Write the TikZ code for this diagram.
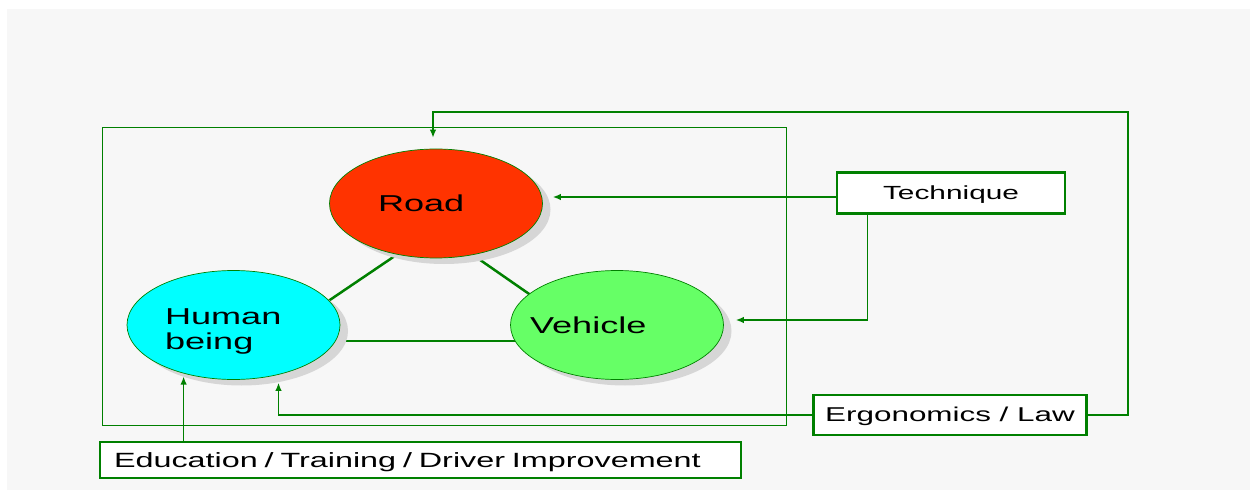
\documentclass[tikz,border=0pt]{standalone}
\usepackage{fontspec}
\setmainfont{Liberation Sans}[FakeStretch=1.57]
\usetikzlibrary{arrows.meta,shapes.geometric,calc}
\definecolor{gline}{RGB}{0,128,0}
\definecolor{roadc}{RGB}{255,51,0}
\definecolor{humc}{RGB}{0,255,255}
\definecolor{vehc}{RGB}{102,255,102}
\definecolor{shadowc}{RGB}{214,214,214}
\definecolor{bgc}{RGB}{247,247,247}
\begin{document}
\begin{tikzpicture}[x=1pt,y=-1pt,
  blob/.style={ellipse, draw=gline, line width=0.7pt, minimum width=213pt, minimum height=109pt,
    inner sep=0pt, font=\fontsize{23}{24.5}\selectfont, align=left},
  boxnode/.style={draw=gline, line width=2.8pt, fill=white, inner sep=0pt},
  conn/.style={draw=gline, line width=1.3pt, -{Latex[length=8pt,width=6.5pt]}},
  link/.style={draw=gline, line width=2.5pt},
  shadowfill/.style={fill=shadowc}
]
\useasboundingbox (0,0) rectangle (1250,497);
\fill[bgc] (7,9) rectangle (1250,490);
\node[draw=gline, line width=1pt, minimum width=684.5pt, minimum height=298pt, inner sep=0pt,
  anchor=north west] (frame) at (101.5,127) {};
\coordinate (rc) at (436,203.5);
\coordinate (hc) at (233.5,325);
\coordinate (vc) at (617,325);
% triangle links
\draw[link] ($(rc)+(-22,39.5)$) -- ($(hc)+(84.5,-17)$);
\draw[link] ($(rc)+(22.6,41.5)$) -- ($(vc)+(-72,-20)$);
\draw[link] ($(hc)+(60,16)$) -- ($(vc)+(-60,16)$);
% shadows
\fill[shadowfill] ($(rc)+(8,6)$) ellipse [x radius=106.5, y radius=54.5];
\fill[shadowfill] ($(hc)+(8,6)$) ellipse [x radius=106.5, y radius=54.5];
\fill[shadowfill] ($(vc)+(8,6)$) ellipse [x radius=106.5, y radius=54.5];
% ellipses
\node[blob, fill=roadc, text width=116pt] (road) at (rc) {Road};
\node[blob, fill=humc, text width=137pt] (hum) at (hc) {\rule{0pt}{28.5pt}Human\\being};
\node[blob, fill=vehc, text width=130pt] (veh) at (vc) {\hspace*{-22pt}Vehicle};
% boxes
\node[boxnode, minimum width=228pt, minimum height=41pt, text height=16pt, text depth=2pt,
  font=\fontsize{19}{22}\selectfont] (tech) at (951,193) {Technique};
\node[boxnode, minimum width=273pt, minimum height=40pt, text height=15.4pt, text depth=2pt,
  font=\fontsize{20}{23}\selectfont] (erg) at (950,415) {Ergonomics / Law};
\node[boxnode, text width=613pt, inner xsep=14pt, minimum height=36pt, align=left,
  text height=16.6pt, text depth=2pt,
  font=\fontsize{20.6}{23}\selectfont] (edu) at (420.5,460) {Education / Training / Driver Improvement};
% connectors
\draw[conn] ([yshift=-4pt]tech.west) -- ($([yshift=-4pt]tech.west -| road.east)+(10,0)$);
\draw[conn] ([xshift=32pt]tech.south west) |- ($(veh.east)+(12,-5)$);
\draw[conn] (erg.east) -| (1128,112) -| ($(road.north)+(-3,-11)$);
\draw[conn] (erg.west) -| ($(hum.south)+(45,3)$);
\draw[conn] ([xshift=85pt]edu.north west) -- ++(0,-64);
\end{tikzpicture}
\end{document}
